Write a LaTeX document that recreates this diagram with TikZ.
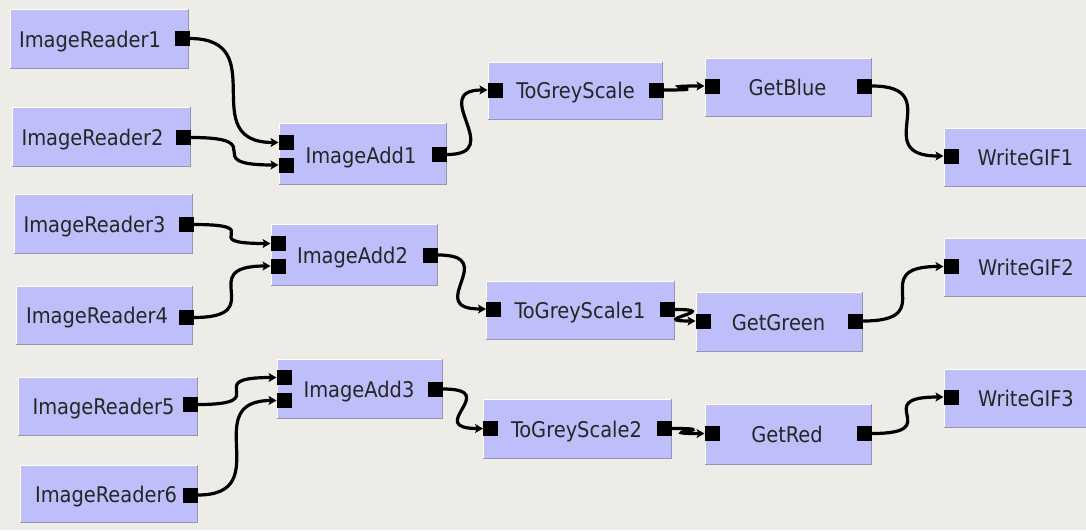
\documentclass[tikz,border=0pt]{standalone}
\usepackage{fontspec}
\newfontfamily\guifont{DejaVu Sans Condensed}
\usetikzlibrary{arrows.meta,calc}
\definecolor{canvasbg}{RGB}{237,236,230}
\definecolor{modfill}{RGB}{190,190,250}
\definecolor{modshade}{RGB}{150,150,178}
\tikzset{
  module/.style={fill=modfill, draw=none, anchor=north west, inner sep=0pt, outer sep=0pt},
  hilite/.style={draw=white, line width=1.2pt},
  lowlite/.style={draw=modshade, line width=1.4pt},
  portsq/.style={fill=black, draw=none, minimum width=15pt, minimum height=15pt, inner sep=0pt, outer sep=0pt},
  caption/.style={font=\guifont\fontsize{21.6}{22}\selectfont, text=black!85, inner sep=0pt,
                  text height=15.5pt, text depth=0pt},
  % cable: horizontal tangents at both ends, handle length grows with the horizontal gap
  wire/.style={line width=3.2pt, draw=black, -{Stealth[length=8pt,width=9pt,inset=2pt]},
    to path={let \p1=(\tikztostart), \p2=(\tikztotarget), \n1={40+0.5*(\x2-\x1)} in
      .. controls (\x1+\n1*1pt,\y1) and (\x2-\n1*1pt,\y2) .. (\p2)}},
}
% module box: name, left, top, right, bottom (pixel units, y pointing down)
\newcommand\modbox[5]{%
  \node[module, minimum width={(#4-#2)*1pt}, minimum height={(#5-#3)*1pt}] (#1) at (#2,#3) {};
  \draw[hilite] ([shift={(0.6pt,0)}]#1.south west) |- ([shift={(0,-0.6pt)}]#1.north east);
  \draw[lowlite] ([shift={(-0.7pt,0)}]#1.north east) |- ([shift={(0,0.7pt)}]#1.south west);
}
\begin{document}
\begin{tikzpicture}[x=1pt,y=-1pt]
\useasboundingbox (0,0) rectangle (1086,530);
\fill[canvasbg] (0,0) rectangle (1086,530);

% ---- modules ----
\modbox{ir1}{10}{9}{189}{69}
\modbox{ir2}{12}{107}{191}{167}
\modbox{ir3}{14}{194}{193}{254}
\modbox{ir4}{16}{286}{193}{345}
\modbox{ir5}{18}{377}{198}{436}
\modbox{ir6}{20}{465}{198}{523}
\modbox{ia1}{279}{123}{447}{185}
\modbox{ia2}{271}{224}{438}{286}
\modbox{ia3}{277}{359}{443}{419}
\modbox{tg}{488}{62}{663}{120}
\modbox{tg1}{486}{281}{675}{340}
\modbox{tg2}{483}{399}{672}{459}
\modbox{gb}{705}{58}{872}{117}
\modbox{gg}{696}{292}{863}{352}
\modbox{gr}{705}{404}{872}{465}
\modbox{w1}{944}{128}{1094}{187}
\modbox{w2}{944}{238}{1094}{297}
\modbox{w3}{944}{369}{1094}{428}

% ---- captions ----
\node[caption] (ir1-t) at (90,39.5) {ImageReader1};
\node[caption] (ir2-t) at (92.5,137.5) {ImageReader2};
\node[caption] (ir3-t) at (94.5,224.5) {ImageReader3};
\node[caption] (ir4-t) at (97,316) {ImageReader4};
\node[caption] (ir5-t) at (103.5,406.5) {ImageReader5};
\node[caption] (ir6-t) at (106,494.5) {ImageReader6};
\node[caption] (ia1-t) at (361,155.5) {ImageAdd1};
\node[caption] (ia2-t) at (352.5,255.5) {ImageAdd2};
\node[caption] (ia3-t) at (359,389.5) {ImageAdd3};
\node[caption] (tg-t) at (575.5,91) {ToGreyScale};
\node[caption] (tg1-t) at (580,310.5) {ToGreyScale1};
\node[caption] (tg2-t) at (576.5,429.5) {ToGreyScale2};
\node[caption] (gb-t) at (787.5,88) {GetBlue};
\node[caption] (gg-t) at (778.5,322.5) {GetGreen};
\node[caption] (gr-t) at (787,435) {GetRed};
\node[caption] (w1-t) at (1025.5,157.5) {WriteGIF1};
\node[caption] (w2-t) at (1026,267.5) {WriteGIF2};
\node[caption] (w3-t) at (1026,398.5) {WriteGIF3};

% ---- ports ----
\node[portsq] (ir1-o) at (182,38.5) {};
\node[portsq] (ir2-o) at (183.5,137.5) {};
\node[portsq] (ir3-o) at (186,224.5) {};
\node[portsq] (ir4-o) at (186,317.5) {};
\node[portsq] (ir5-o) at (190.5,404.5) {};
\node[portsq] (ir6-o) at (190.5,495) {};
\node[portsq] (ia1-a) at (286,142.5) {};
\node[portsq] (ia1-b) at (286,165) {};
\node[portsq] (ia1-o) at (439.5,154.5) {};
\node[portsq] (ia2-a) at (278,243.5) {};
\node[portsq] (ia2-b) at (278,266) {};
\node[portsq] (ia2-o) at (430.5,255) {};
\node[portsq] (ia3-a) at (284,377.5) {};
\node[portsq] (ia3-b) at (284,400.5) {};
\node[portsq] (ia3-o) at (435.5,389) {};
\node[portsq] (tg-i) at (495,90) {};
\node[portsq] (tg-o) at (656,90) {};
\node[portsq] (tg1-i) at (493.5,309) {};
\node[portsq] (tg1-o) at (667.5,309.5) {};
\node[portsq] (tg2-i) at (490.5,428.5) {};
\node[portsq] (tg2-o) at (664.5,428.5) {};
\node[portsq] (gb-i) at (712,86) {};
\node[portsq] (gb-o) at (864.5,86) {};
\node[portsq] (gg-i) at (703,321) {};
\node[portsq] (gg-o) at (855.5,321) {};
\node[portsq] (gr-i) at (712,433.5) {};
\node[portsq] (gr-o) at (864.5,433.5) {};
\node[portsq] (w1-i) at (951,156) {};
\node[portsq] (w2-i) at (951,266.5) {};
\node[portsq] (w3-i) at (951,397) {};

% ---- connections ----
\draw[wire] (ir1-o.east) to (ia1-a.west);
\draw[wire] (ir2-o.east) to (ia1-b.west);
\draw[wire] (ir3-o.east) to (ia2-a.west);
\draw[wire] (ir4-o.east) to (ia2-b.west);
\draw[wire] (ir5-o.east) to (ia3-a.west);
\draw[wire] (ir6-o.east) to (ia3-b.west);
\draw[wire] (ia1-o.east) to (tg-i.west);
\draw[wire] (ia2-o.east) to (tg1-i.west);
\draw[wire] (ia3-o.east) to (tg2-i.west);
\draw[wire] (tg-o.east) to (gb-i.west);
\draw[wire] (tg1-o.east) to (gg-i.west);
\draw[wire] (tg2-o.east) to (gr-i.west);
\draw[wire] (gb-o.east) to (w1-i.west);
\draw[wire] (gg-o.east) to (w2-i.west);
\draw[wire] (gr-o.east) to (w3-i.west);
\end{tikzpicture}
\end{document}
